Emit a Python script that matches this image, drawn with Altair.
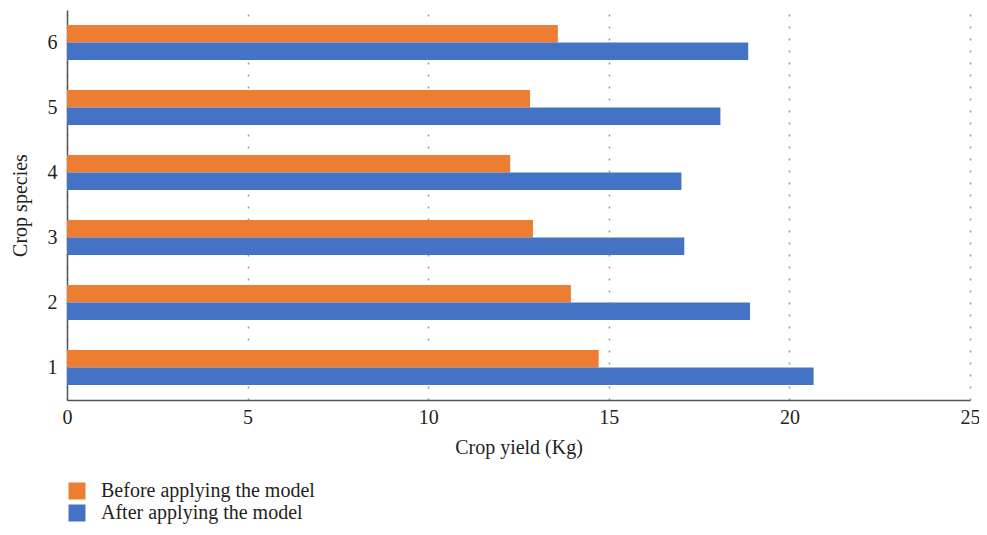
import altair as alt
import pandas as pd

species = ["1", "2", "3", "4", "5", "6"]
before = [14.72, 13.95, 12.90, 12.27, 12.82, 13.59]
after = [20.67, 18.91, 17.09, 17.01, 18.09, 18.86]
series = ["Before applying the model", "After applying the model"]
colors = ["#ED7D31", "#4472C4"]

rows = []
for s, b, a in zip(species, before, after):
    rows.append({"species": s, "series": series[0], "value": b})
    rows.append({"species": s, "series": series[1], "value": a})
df = pd.DataFrame(rows)

FONT = "Liberation Serif"
TXT = "#231F20"

chart = alt.Chart(df).mark_bar().encode(
    x=alt.X("value:Q",
            scale=alt.Scale(domain=[0, 25], nice=False),
            axis=alt.Axis(title="Crop yield (Kg)", values=[0, 5, 10, 15, 20, 25],
                          grid=True, ticks=False, labelPadding=7, labelFlush=False,
                          titlePadding=10)),
    y=alt.Y("species:N", sort=species[::-1],
            scale=alt.Scale(paddingInner=0.46, paddingOuter=0.23),
            axis=alt.Axis(title="Crop species", grid=False, ticks=False,
                          labelPadding=10, titlePadding=17)),
    yOffset=alt.YOffset("series:N", sort=series,
                        scale=alt.Scale(paddingInner=0, paddingOuter=0)),
    color=alt.Color("series:N", sort=series,
                    scale=alt.Scale(domain=series, range=colors),
                    legend=alt.Legend(title=None, orient="none", legendX=0, legendY=471,
                                      symbolType="square", symbolSize=289,
                                      symbolStrokeWidth=0, labelFontSize=20,
                                      labelFont=FONT, labelColor=TXT,
                                      labelLimit=600, labelOffset=14, rowPadding=2,
                                      symbolOffset=0, padding=0)),
).properties(
    width=903, height=390,
    autosize=alt.AutoSizeParams(type="none"),
    padding={"left": 59, "top": 2, "right": 9, "bottom": 126},
).configure_view(
    stroke=None
).configure_axis(
    labelFont=FONT, titleFont=FONT, labelFontSize=20, titleFontSize=20,
    labelColor=TXT, titleColor=TXT, titleFontWeight="normal",
    domainColor="#555555", domainWidth=1.5,
    gridColor="#999999", gridDash=[2, 10], gridWidth=1.5,
)

chart.save("out.html", embed_options={"renderer": "svg", "actions": False})
